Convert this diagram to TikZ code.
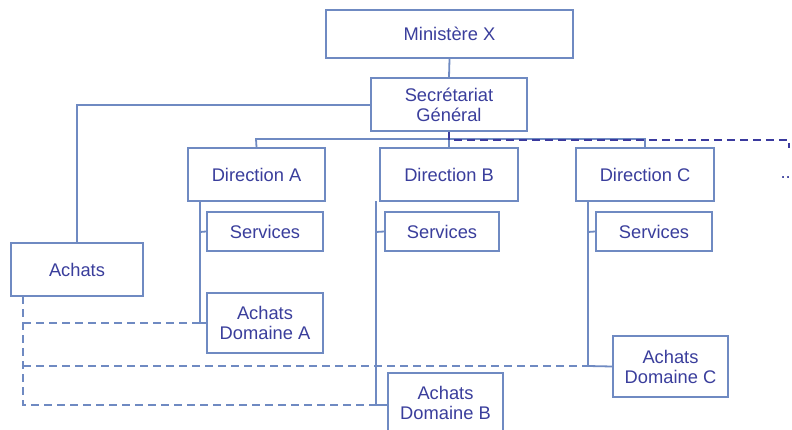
\documentclass[tikz,border=0pt]{standalone}
\usepackage{fontspec}
\setmainfont{Liberation Sans}
\usetikzlibrary{calc}
\definecolor{boxline}{HTML}{6F8AC2}
\definecolor{txt}{HTML}{3A3E9C}
\definecolor{darkdash}{HTML}{3A3A9E}
\begin{document}
\begin{tikzpicture}[x=1pt,y=-1pt,
  orgbox/.style={draw=boxline,line width=1.8pt,fill=white,text=txt,align=center,
    inner sep=0pt,font=\fontsize{18.3}{20}\selectfont},
  link/.style={draw=boxline,line width=1.8pt},
  lightdash/.style={draw=boxline,line width=1.8pt,dash pattern=on 8pt off 5pt},
  darkdashed/.style={draw=darkdash,line width=1.8pt,dash pattern=on 8pt off 5pt}]
\useasboundingbox (0,0) rectangle (792,430);
% connectors first
\coordinate (busL) at (256,139);
\coordinate (busR) at (645,139);
\coordinate (sgL) at (77,105);
\coordinate (dashE) at (789,140);
\coordinate (dashEd) at (789,148);
\coordinate (dashS) at (449,140);
\coordinate (aT) at (200,201);
\coordinate (aS) at (200,232);
\coordinate (aD) at (200,323);
\coordinate (bT) at (376,201);
\coordinate (bS) at (376,232);
\coordinate (bD) at (376,405);
\coordinate (cT) at (588,201);
\coordinate (cS) at (588,232);
\coordinate (cD) at (588,366);
\coordinate (hT) at (23,296);
\coordinate (h1) at (23,323);
\coordinate (h2) at (23,366);
\coordinate (h3) at (23,405);

\node[orgbox,minimum width=247pt,minimum height=48pt] (min) at (449.5,34) {Ministère X};
\node[orgbox,minimum width=156pt,minimum height=53pt] (sg) at (449,104.5) {Secrétariat\\Général};
\node[orgbox,minimum width=132pt,minimum height=53pt] (ach) at (77,269.5) {Achats};
\node[orgbox,minimum width=137pt,minimum height=53pt] (dA) at (256.5,174.5) {Direction A};
\node[orgbox,minimum width=138pt,minimum height=53pt] (dB) at (449,174.5) {Direction B};
\node[orgbox,minimum width=138pt,minimum height=53pt] (dC) at (645,174.5) {Direction C};
\node[orgbox,minimum width=116pt,minimum height=39pt] (sA) at (265,231.5) {Services};
\node[orgbox,minimum width=114pt,minimum height=39pt] (sB) at (442,231.5) {Services};
\node[orgbox,minimum width=116pt,minimum height=39pt] (sC) at (654,231.5) {Services};
\node[orgbox,minimum width=116pt,minimum height=60pt] (adA) at (265,323) {Achats\\Domaine A};
\node[orgbox,minimum width=115pt,minimum height=60pt] (adB) at (445.5,403) {Achats\\Domaine B};
\node[orgbox,minimum width=115pt,minimum height=61pt] (adC) at (670.5,366.5) {Achats\\Domaine C};
\node[text=txt,anchor=east,inner sep=0pt,font=\fontsize{18.3}{20}\selectfont] (dots) at (791,178) {..};

% solid connectors
\path[link] (min.south) -- (sg.north);
\path[link] (sg.west |- sgL) -- (sgL) -- (ach.north);
\path[link] (dA.north) -- (busL) -- (busR) -- (dC.north);
\path[link] (sg.south) -- (dB.north);
\path[link] (aT) -- (aD) -- (adA.west);
\path[link] (aS) -- (sA.west);
\path[link] (bT) -- (bD) -- (adB.west |- bD);
\path[link] (bS) -- (sB.west);
\path[link] (cT) -- (cD) -- (adC.west);
\path[link] (cS) -- (sC.west);
% dashed connectors
\path[darkdashed] (sg.south) -- (dashS) -- (dashE) -- (dashEd);
\path[lightdash] (hT) -- (h3) -- (bD);
\path[lightdash] (h1) -- (aD);
\path[lightdash] (h2) -- (cD);
\end{tikzpicture}
\end{document}
